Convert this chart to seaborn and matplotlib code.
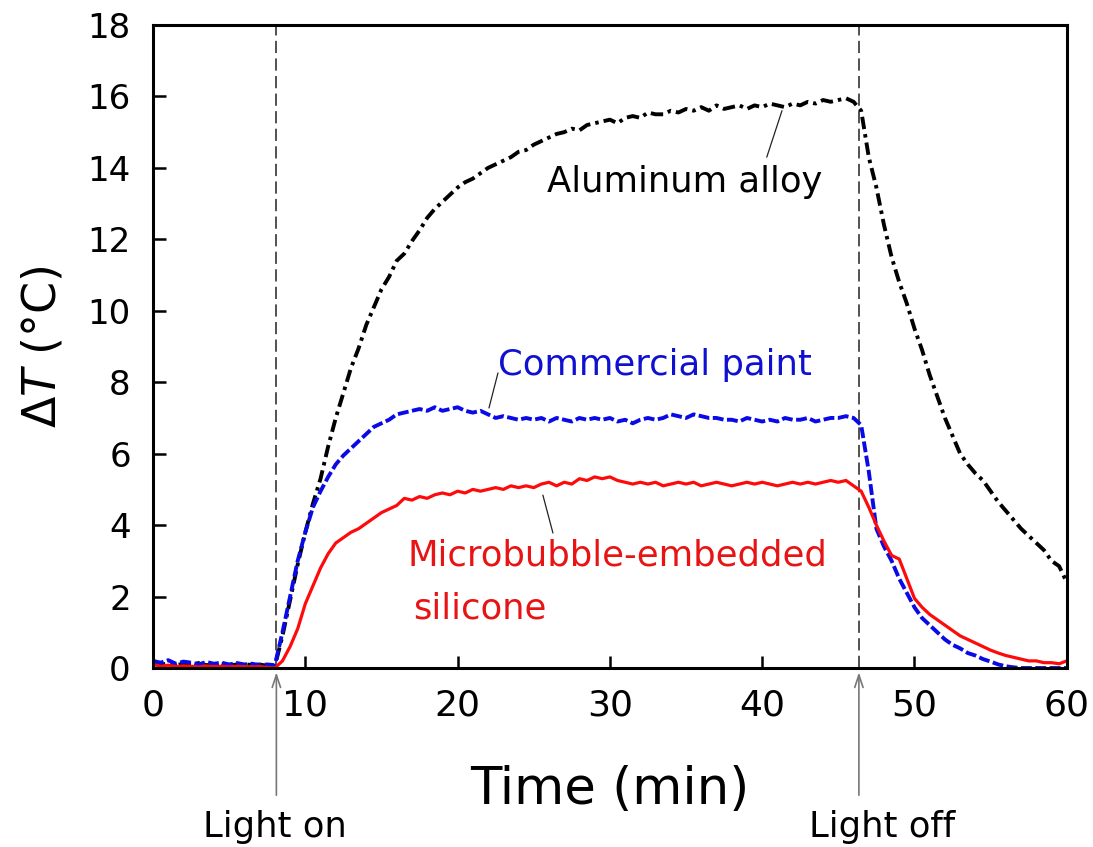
import numpy as np
import pandas as pd
import matplotlib
matplotlib.use("Agg")
import matplotlib.pyplot as plt
import seaborn as sns

# ---------------- data ----------------
time_min = np.arange(0, 60.01, 0.5)  # sampling grid, 0.5 min

aluminum = [
    0.15, 0.1, 0.12, 0.08, 0.12, 0.1, 0.14, 0.08, 0.1, 0.12, 0.07, 0.1, 0.11, 0.08, 0.1, 0.06, 0.05,
    0.9, 1.9, 2.9, 3.8, 4.6, 5.3, 6.2, 7.0, 7.7, 8.4, 8.95, 9.6, 10.1, 10.6, 10.95, 11.4, 11.6, 11.95,
    12.25, 12.6, 12.85, 13.05, 13.25, 13.45,
    13.6, 13.7, 13.85, 14.0, 14.1, 14.2, 14.3, 14.45, 14.5, 14.65, 14.75, 14.85, 14.95, 15.0, 15.1,
    15.05, 15.2, 15.25, 15.3, 15.35,
    15.25, 15.4, 15.45, 15.4, 15.55, 15.5, 15.5, 15.6, 15.55, 15.65, 15.6, 15.7, 15.6, 15.75, 15.65,
    15.7, 15.75, 15.65, 15.75, 15.7,
    15.8, 15.75, 15.7, 15.8, 15.75, 15.85, 15.8, 15.9, 15.85, 15.9, 15.95, 15.85, 15.6, 14.3, 13.45,
    12.4, 11.5, 10.8, 10.2, 9.5,
    8.9, 8.2, 7.6, 7.0, 6.5, 6.0, 5.7, 5.45, 5.25, 4.95, 4.65, 4.4, 4.15, 3.9, 3.7, 3.5, 3.3, 3.0,
    2.85, 2.4,
]

commercial = [
    0.2, 0.15, 0.22, 0.12, 0.18, 0.15, 0.1, 0.17, 0.12, 0.15, 0.1, 0.14, 0.1, 0.12, 0.08, 0.1, 0.08,
    1.0, 2.0, 3.0, 3.8, 4.5, 4.95, 5.35, 5.7, 5.95, 6.15, 6.35, 6.55, 6.75, 6.85, 6.95, 7.1, 7.15, 7.2,
    7.25, 7.2, 7.3, 7.2, 7.25, 7.3,
    7.2, 7.15, 7.2, 7.1, 7.0, 7.05, 7.0, 6.95, 7.0, 6.95, 7.0, 6.9, 7.0, 6.95, 6.9, 7.0, 6.95, 7.0,
    6.95, 7.0,
    6.9, 6.95, 6.85, 6.95, 7.0, 6.95, 7.0, 7.1, 7.05, 7.0, 7.1, 7.05, 7.0, 7.0, 6.95, 6.95, 6.9, 7.0,
    6.95, 6.9,
    6.95, 6.9, 7.0, 6.95, 6.95, 7.0, 6.9, 6.95, 7.0, 7.0, 7.05, 7.0, 6.8, 5.5, 3.9, 3.4, 3.0, 2.5,
    2.1, 1.7,
    1.4, 1.2, 1.0, 0.8, 0.65, 0.55, 0.42, 0.35, 0.25, 0.18, 0.1, 0.05, 0.02, 0.0, 0.0, 0.0, 0.0, 0.0,
    0.0, 0.0,
]

microbubble = [
    0.1, 0.05, 0.08, 0.04, 0.06, 0.05, 0.03, 0.06, 0.04, 0.05, 0.03, 0.05, 0.04, 0.03, 0.04, 0.02, 0.0,
    0.2, 0.6, 1.1, 1.8, 2.3, 2.8, 3.2, 3.5, 3.65, 3.8, 3.9, 4.05, 4.2, 4.35, 4.45, 4.55, 4.75, 4.7,
    4.8, 4.75, 4.85, 4.9, 4.85, 4.95,
    4.9, 5.0, 4.95, 5.0, 5.05, 5.0, 5.1, 5.05, 5.1, 5.05, 5.15, 5.2, 5.1, 5.2, 5.15, 5.3, 5.25, 5.35,
    5.3, 5.35,
    5.25, 5.2, 5.15, 5.2, 5.15, 5.2, 5.1, 5.15, 5.2, 5.15, 5.2, 5.1, 5.15, 5.2, 5.15, 5.1, 5.15, 5.2,
    5.15, 5.2,
    5.15, 5.1, 5.15, 5.2, 5.15, 5.2, 5.15, 5.2, 5.25, 5.2, 5.25, 5.1, 4.95, 4.5, 4.0, 3.55, 3.15, 3.05,
    2.5, 1.95,
    1.7, 1.5, 1.35, 1.2, 1.05, 0.9, 0.8, 0.7, 0.6, 0.5, 0.42, 0.35, 0.3, 0.25, 0.2, 0.2, 0.15, 0.15,
    0.12, 0.2,
]

light_on = 8.1
light_off = 46.35
x_ticks = [0, 10, 20, 30, 40, 50, 60]
y_ticks = [0, 2, 4, 6, 8, 10, 12, 14, 16, 18]

df = pd.DataFrame({"t": time_min, "al": aluminum, "cp": commercial, "mb": microbubble})

# ---------------- figure ----------------
sns.set_style("white", {"xtick.bottom": True, "ytick.left": True,
                        "xtick.color": "black", "ytick.color": "black",
                        "axes.labelcolor": "black", "text.color": "black",
                        "axes.edgecolor": "black"})
plt.rcParams["font.family"] = ["DejaVu Sans"]

fig = plt.figure(figsize=(10.93, 8.47), dpi=100)
ax = fig.add_axes([0.140, 0.2113, 0.836, 0.7592])

sns.lineplot(data=df, x="t", y="al", ax=ax, color="black", lw=2.8,
             linestyle=(0, (3.2, 1.3, 0.9, 1.3)), estimator=None, sort=False, legend=False)
sns.lineplot(data=df, x="t", y="cp", ax=ax, color="#0a0ae6", lw=2.8,
             linestyle=(0, (2.8, 0.9)), estimator=None, sort=False, legend=False)
sns.lineplot(data=df, x="t", y="mb", ax=ax, color="#ff0a0a", lw=2.3,
             linestyle="-", estimator=None, sort=False, legend=False)

for xv in (light_on, light_off):
    ax.axvline(xv, color="#222222", lw=1.1, linestyle=(0, (8, 3.5)), zorder=1)

ax.set_xlim(0, 60)
ax.set_ylim(0, 18)
ax.set_xticks(x_ticks)
ax.set_yticks(y_ticks)
ax.tick_params(axis="x", which="major", direction="in", length=9, width=1.8, labelsize=26,
               pad=15, bottom=True, top=False, color="black", labelcolor="black")
ax.tick_params(axis="y", which="major", direction="in", length=9, width=1.8, labelsize=24.5,
               pad=16, left=True, right=False, color="black", labelcolor="black")
for s in ax.spines.values():
    s.set_linewidth(2.2)
    s.set_color("black")
    s.set_zorder(5)

ax.set_xlabel("Time (min)", fontsize=37, color="black")
ax.set_ylabel(r"Δ$\mathit{T}$ (°C)", fontsize=33, color="black")
ax.xaxis.label.set_va("center")
ax.xaxis.set_label_coords(0.5, -0.19)
ax.yaxis.label.set_va("center")
ax.yaxis.set_label_coords(-0.12, 0.5)

# series labels with leader lines
ax.text(25.9, 13.33, "Aluminum alloy", fontsize=25.5, color="black", ha="left", va="baseline")
ax.plot([40.3, 41.3], [14.3, 15.6], color="#222222", lw=0.9)
ax.text(22.65, 8.2, "Commercial paint", fontsize=25.5, color="#1010d0", ha="left", va="baseline")
ax.plot([22.06, 22.65], [7.28, 8.26], color="#222222", lw=0.9)
ax.text(16.7, 2.88, "Microbubble-embedded", fontsize=25.5, color="#e81414", ha="left", va="baseline")
ax.text(17.1, 1.40, "silicone", fontsize=25.5, color="#e81414", ha="left", va="baseline")
ax.plot([25.6, 26.26], [4.84, 3.78], color="#222222", lw=0.9)

# light on / off arrows below the axis
for xv, xt, label in ((light_on, 8.0, "Light on"), (light_off, 47.9, "Light off")):
    ax.annotate("", xy=(xv, -0.12), xytext=(xv, -3.56), xycoords="data", textcoords="data",
                arrowprops=dict(arrowstyle="->,head_length=0.9,head_width=0.3",
                                color="#777777", lw=1.2, shrinkA=0, shrinkB=0),
                annotation_clip=False)
    ax.text(xt, -4.73, label, fontsize=25.5, color="black", ha="center", va="baseline",
            clip_on=False)

fig.savefig("out.png", dpi=100)
